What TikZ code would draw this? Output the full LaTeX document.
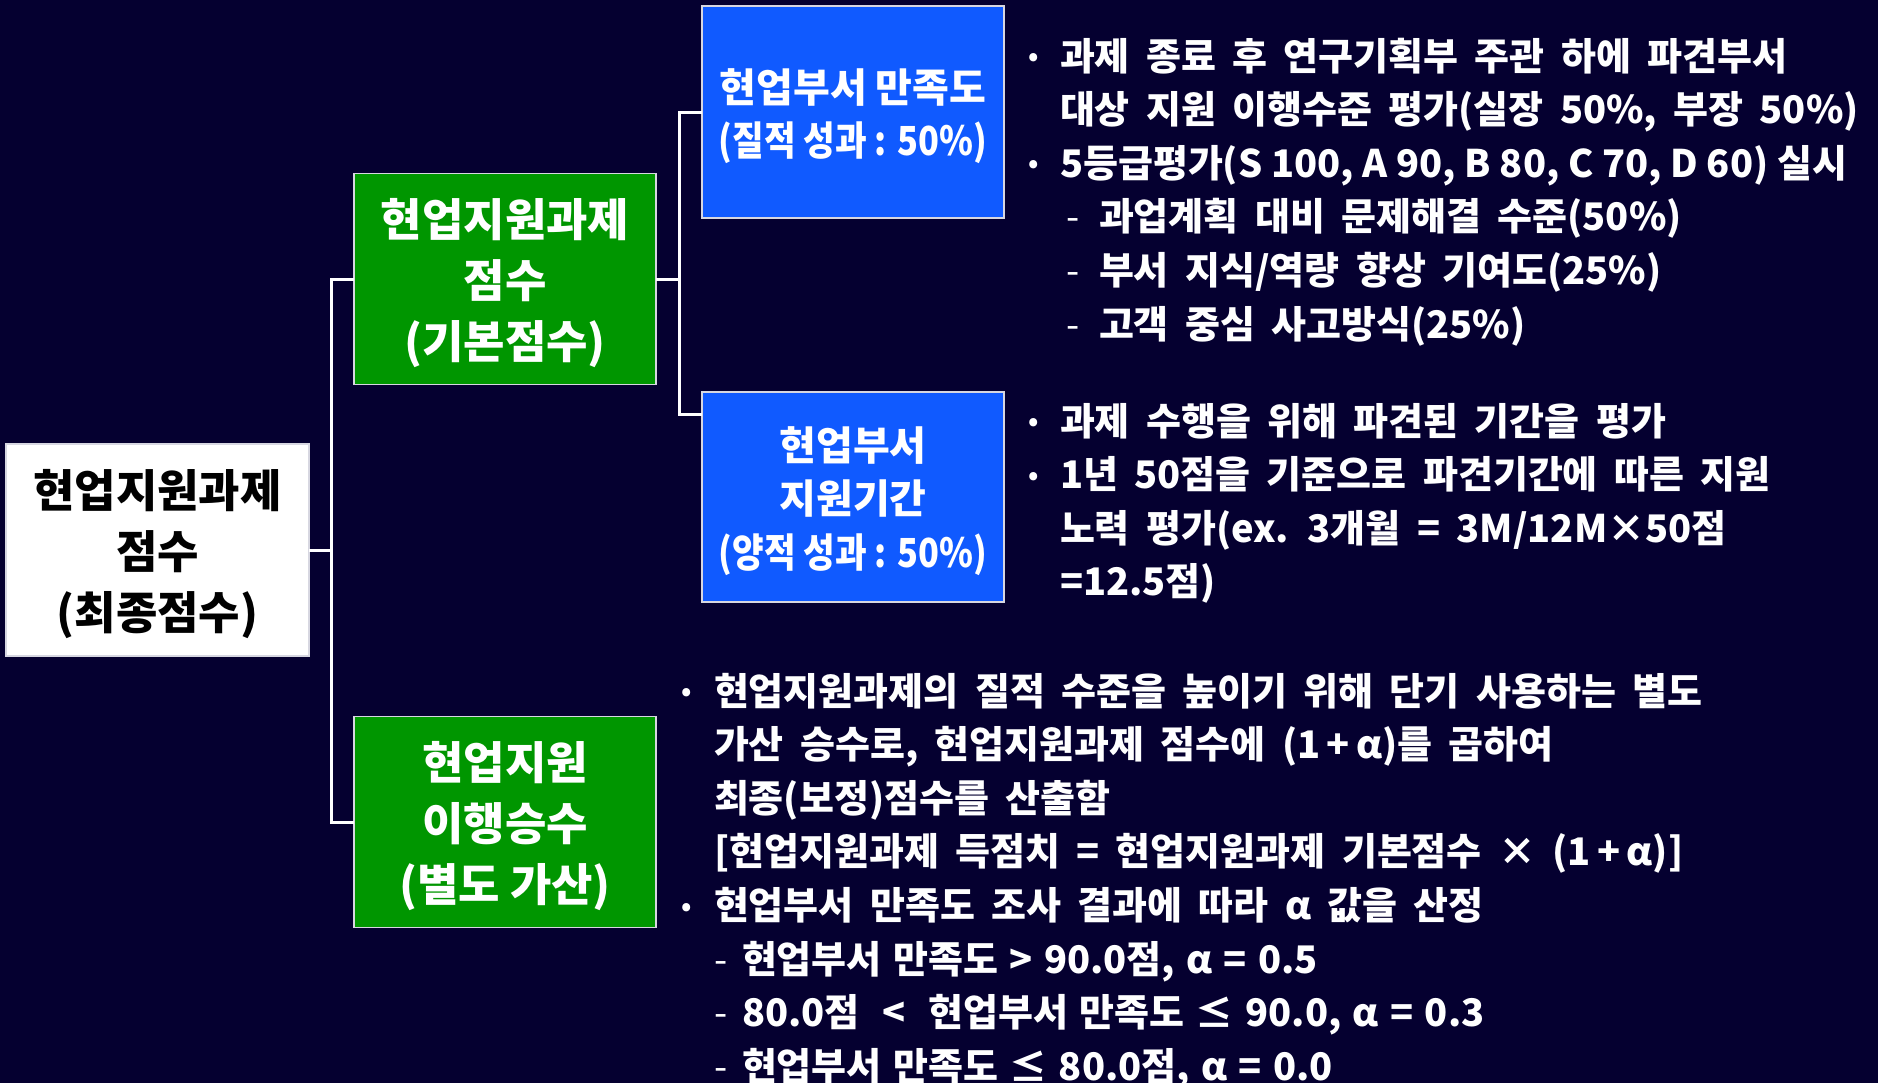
\documentclass[tikz,border=0pt]{standalone}
\usepackage{fontspec}
\setmainfont{Noto Sans CJK KR}
\definecolor{bg}{RGB}{5,0,48}
\definecolor{boxgreen}{RGB}{0,150,0}
\definecolor{boxblue}{RGB}{16,90,255}
\definecolor{boxedge}{RGB}{215,215,225}
\newcommand\smbul{\raisebox{2.2pt}{\fontsize{13pt}{13pt}\selectfont •}}
\newcommand\bul{\makebox[16pt][l]{\smbul}}
\newcommand\bulc{\makebox[16.5pt][l]{\smbul}}
\newcommand\dsh[1]{\makebox[#1][l]{\mdseries -}}
\newcommand\tp[2]{\raisebox{0pt}[\dimexpr\height+#1\relax]{#2}}
\newcommand\cnd[1]{\scalebox{0.86}[1]{#1}}
\newlength\wsplen
\newcommand\wsp{\setlength\wsplen{0.43em}\spaceskip=\wsplen\relax}
\newcommand\msp{\setlength\wsplen{0.3em}\spaceskip=\wsplen\relax}
\newcommand\nsp{\spaceskip=0pt\relax}
\newcommand\txtline[4]{\node[txt,anchor=base west] (#1) at (#2,#3) {\wsp #4};}
\begin{document}
\begin{tikzpicture}[x=0.5pt,y=-0.5pt,
  box/.style={draw=boxedge, line width=0.75pt, inner sep=0pt, outer sep=0pt, align=center},
  bigbox/.style={box, minimum width=151pt, minimum height=105.5pt, font=\fontsize{22.5pt}{30.5pt}\selectfont\bfseries},
  bluebox/.style={box, fill=boxblue, text=white, minimum width=151pt, minimum height=106pt, font=\fontsize{20pt}{26.8pt}\selectfont\bfseries},
  conn/.style={draw=white, line width=1.5pt},
  txt/.style={inner sep=0pt, outer sep=0pt, text=white, font=\fontsize{19pt}{26.8pt}\selectfont\bfseries}]
\fill[bg] (0,0) rectangle (1878,1083);
\useasboundingbox (0,0) rectangle (1878,1083);
\begin{scope}
\clip (0,0) rectangle (1878,1083);
% boxes
\node[bigbox, fill=white, text=black, minimum width=151.5pt, minimum height=106pt] (root) at (157.5,550) {\tp{4pt}{현업지원과제}\\점수\\(최종점수)};
\node[bigbox, fill=boxgreen, text=white] (g1) at (505,279) {\tp{4pt}{현업지원과제}\\점수\\(기본점수)};
\node[bigbox, fill=boxgreen, text=white] (g2) at (505,822) {\tp{4pt}{현업지원}\\이행승수\\(별도 가산)};
\node[bluebox] (b1) at (853,112) {\tp{4pt}{현업부서 만족도}\\\cnd{(질적 성과 : 50\%)}};
\node[bluebox, minimum height=105pt] (b2) at (853,497) {\tp{4pt}{현업부서}\\지원기간\\\cnd{(양적 성과 : 50\%)}};
% connectors
\coordinate (bus1) at (331,550);
\coordinate (bus2) at (679,279);
\draw[conn] (root.east) -- (bus1);
\draw[conn] (g1.west) -| (bus1) |- (g2.west);
\draw[conn] (g1.east) -- (bus2);
\draw[conn] (b1.west) -| (bus2) |- ([yshift=-11pt]b2.north west);
% block A
\txtline{a1}{1028}{70}{\bul 과제 종료 후 연구기획부 주관 하에 파견부서}
\txtline{a2}{1060}{123.6}{대상 지원 이행수준 평가(실장 50\%, 부장 50\%)}
\txtline{a3}{1028}{177.2}{\nsp\bul 5등급평가(S 100, A 90, B 80, C 70, D 60) 실시}
\txtline{a4}{1066}{230.8}{\dsh{16.5pt}과업계획 대비 문제해결 수준(50\%)}
\txtline{a5}{1066}{284.4}{\dsh{16.5pt}부서 지식/역량 향상 기여도(25\%)}
\txtline{a6}{1066}{338}{\dsh{16.5pt}고객 중심 사고방식(25\%)}
% block B
\txtline{c1}{1028}{435}{\bul 과제 수행을 위해 파견된 기간을 평가}
\txtline{c2}{1028}{488.6}{\bul 1년 50점을 기준으로 파견기간에 따른 지원}
\txtline{c3}{1060}{542.2}{노력 평가(ex. 3개월 = 3M/12M×50점}
\txtline{c4}{1060}{595.8}{=12.5점)}
% block C
\txtline{d1}{681}{705}{\bulc 현업지원과제의 질적 수준을 높이기 위해 단기 사용하는 별도}
\txtline{d2}{714}{758.6}{가산 승수로, 현업지원과제 점수에 (1\,+\,α)를 곱하여}
\txtline{d3}{714}{812.2}{최종(보정)점수를 산출함}
\txtline{d4}{714}{865.8}{[현업지원과제 득점치 = 현업지원과제 기본점수 × (1\,+\,α)]}
\txtline{d5}{681}{919.4}{\bulc 현업부서 만족도 조사 결과에 따라 α 값을 산정}
\txtline{d6}{714}{973}{\msp\dsh{14pt}현업부서 만족도 > 90.0점, α = 0.5}
\txtline{d7}{714}{1026.6}{\msp\dsh{14pt}80.0점 \ < \ 현업부서 만족도 ≤ 90.0, α = 0.3}
\txtline{d8}{714}{1080.2}{\msp\dsh{14pt}현업부서 만족도 ≤ 80.0점, α = 0.0}
\end{scope}
\end{tikzpicture}
\end{document}
